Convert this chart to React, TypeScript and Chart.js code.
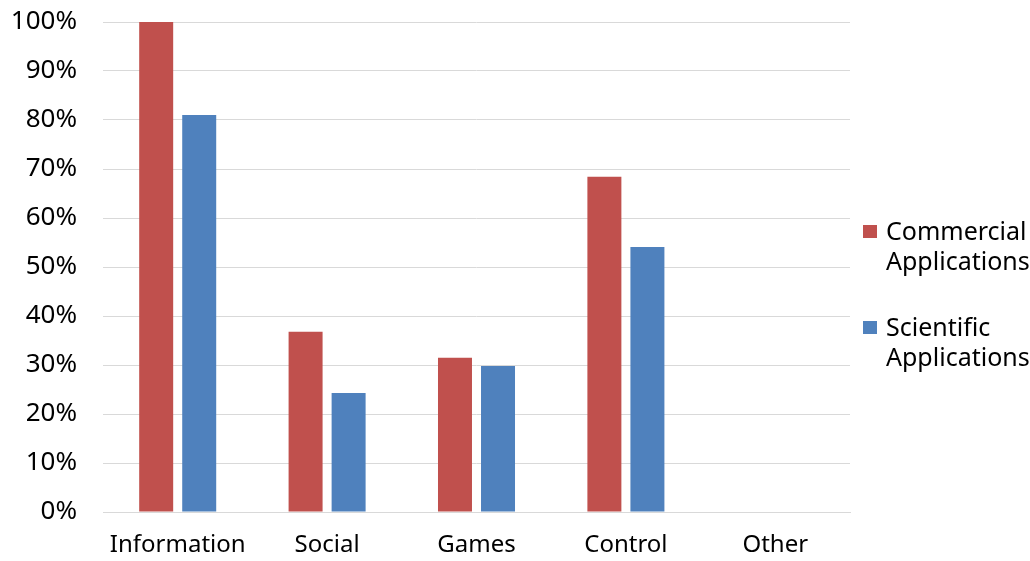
import React, { useEffect, useRef } from "react";
import { Chart, registerables } from "chart.js";

Chart.register(...registerables);

const categories = ["Information", "Social", "Games", "Control", "Other"];
const commercial = [100, 36.8, 31.5, 68.4, 0];
const scientific = [81.0, 24.3, 29.8, 54.1, 0];
const seriesNames = [["Commercial", "Applications"], ["Scientific", "Applications"]];
const seriesColors = ["#C0504D", "#4F81BD"];

const FONT = "'Noto Sans', sans-serif";

export default function App() {
  const ref = useRef<HTMLCanvasElement | null>(null);
  useEffect(() => {
    if (!ref.current) return;
    const chart = new Chart(ref.current, {
      type: "bar",
      data: {
        labels: categories,
        datasets: [
          { label: seriesNames[0].join(" "), data: commercial, backgroundColor: seriesColors[0] },
          { label: seriesNames[1].join(" "), data: scientific, backgroundColor: seriesColors[1] },
        ],
      },
      options: {
        animation: false,
        responsive: false,
        maintainAspectRatio: false,
        layout: { padding: { top: 22, right: 180, left: 0, bottom: 0 } },
        datasets: { bar: { categoryPercentage: 0.576, barPercentage: 0.79 } },
        plugins: { legend: { display: false }, tooltip: { enabled: false } },
        scales: {
          x: {
            grid: { display: false },
            border: { display: true, color: "#d9d9d9", width: 1 },
            ticks: { color: "#000", font: { family: FONT, size: 24 }, padding: 11, maxRotation: 0 },
            afterFit: (s: any) => { s.height = 49; },
          },
          y: {
            min: 0,
            max: 100,
            ticks: {
              stepSize: 10,
              color: "#000",
              font: { family: FONT, size: 26 },
              padding: 26,
              callback: (v: any) => v + "%",
            },
            grid: { color: "#d9d9d9", drawTicks: false },
            border: { display: false },
            afterFit: (s: any) => { s.width = 103; s.paddingTop = 0; s.paddingBottom = 0; },
          },
        },
      },
    });
    return () => chart.destroy();
  }, []);

  return (
    <div style={{ position: "fixed", left: 0, top: 0, width: 1030, height: 561, background: "#fff" }}>
      <canvas ref={ref} width={1030} height={561} style={{ position: "absolute", left: 0, top: 0 }} />
      {seriesNames.map((lines, i) => (
        <div key={i} style={{ position: "absolute", left: 863, top: 215 + i * 96, fontFamily: FONT, fontSize: 25, lineHeight: "30px", color: "#000" }}>
          <div style={{ position: "absolute", left: 0, top: 10, width: 14, height: 13, background: seriesColors[i] }} />
          <div style={{ position: "absolute", left: 23, top: 0, whiteSpace: "nowrap" }}>
            {lines.map((l, j) => <div key={j}>{l}</div>)}
          </div>
        </div>
      ))}
    </div>
  );
}
